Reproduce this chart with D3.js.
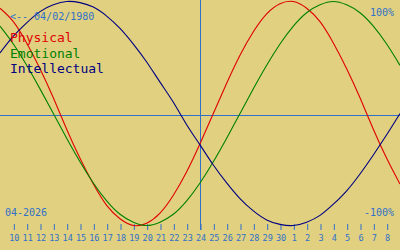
<!DOCTYPE html>
<html>
<head>
<meta charset="utf-8">
<script src="https://cdn.jsdelivr.net/npm/d3@7"></script>
<style>
  body { margin: 0; background: #e0d080; }
  svg { display: block; }
  text { font-family: "DejaVu Sans Mono", monospace; }
</style>
</head>
<body>
<svg id="chart" width="400" height="250"></svg>
<script>
// day offsets from the centre day (24)
var offsets = d3.range(-15, 16);
var dayLabels = [10, 11, 12, 13, 14, 15, 16, 17, 18, 19, 20, 21, 22, 23, 24,
                 25, 26, 27, 28, 29, 30, 1, 2, 3, 4, 5, 6, 7, 8];

// values, one per day, -15 .. +15
var physical = [0.94, 0.82, 0.63, 0.40, 0.14, -0.14, -0.40, -0.63, -0.82, -0.94, -1.00,
                -0.98, -0.89, -0.73, -0.52, -0.27, 0.00, 0.27, 0.52, 0.73, 0.89,
                0.98, 1.00, 0.94, 0.82, 0.63, 0.40, 0.14, -0.14, -0.40, -0.63];
var emotional = [0.78, 0.62, 0.43, 0.22, 0.00, -0.22, -0.43, -0.62, -0.78, -0.90, -0.97,
                 -1.00, -0.97, -0.90, -0.78, -0.62, -0.43, -0.22, 0.00, 0.22, 0.43,
                 0.62, 0.78, 0.90, 0.97, 1.00, 0.97, 0.90, 0.78, 0.62, 0.43];
var intellectual = [0.54, 0.69, 0.81, 0.91, 0.97, 1.00, 0.99, 0.95, 0.87, 0.76, 0.62,
                    0.46, 0.28, 0.10, -0.10, -0.28, -0.46, -0.62, -0.76, -0.87, -0.95,
                    -0.99, -1.00, -0.97, -0.91, -0.81, -0.69, -0.54, -0.37, -0.19, 0.00];

var series = [
  {name: "Physical", values: physical, color: "#e00000"},
  {name: "Emotional", values: emotional, color: "#008000"},
  {name: "Intellectual", values: intellectual, color: "#000080"}
];

var axisBlue = "#3070c8";
var svg = d3.select("#chart");

var x = d3.scaleLinear().domain([-15, 15]).range([0, 400]);
var y = d3.scaleLinear().domain([-1, 1]).range([225.5, 1.5]);

// centre lines
svg.append("line")
  .attr("x1", 0).attr("x2", 400)
  .attr("y1", 115.5).attr("y2", 115.5)
  .attr("stroke", axisBlue);
svg.append("line")
  .attr("x1", x(0) + 0.5).attr("x2", x(0) + 0.5)
  .attr("y1", 0).attr("y2", 230)
  .attr("stroke", axisBlue);

// day axis
var tickOffsets = d3.range(-14, 15);
var axis = d3.axisBottom(x)
  .tickValues(tickOffsets)
  .tickSize(6)
  .tickSizeOuter(0)
  .tickPadding(5)
  .tickFormat(function(d, i) { return dayLabels[i]; });

var gAxis = svg.append("g")
  .attr("transform", "translate(0.5,224)")
  .call(axis);
gAxis.select(".domain").remove();
gAxis.selectAll("line").attr("stroke", axisBlue);
gAxis.selectAll("text")
  .attr("fill", axisBlue)
  .style("font-size", "8.5px")
  .style("font-family", "DejaVu Sans Mono, monospace")
  .attr("dy", "0.72em");

// curves
var line = d3.line()
  .x(function(d, i) { return x(offsets[i]); })
  .y(function(d) { return y(d); })
  .curve(d3.curveNatural);

svg.selectAll(".curve")
  .data(series)
  .enter().append("path")
  .attr("class", "curve")
  .attr("d", function(d) { return line(d.values); })
  .attr("fill", "none")
  .attr("stroke", function(d) { return d.color; })
  .attr("stroke-width", 1.1);

// labels
svg.append("text").attr("x", 10).attr("y", 20)
  .attr("fill", axisBlue).style("font-size", "10px")
  .text("<-- 04/02/1980");
svg.append("text").attr("x", 394).attr("y", 16)
  .attr("text-anchor", "end")
  .attr("fill", axisBlue).style("font-size", "10px")
  .text("100%");
svg.append("text").attr("x", 394).attr("y", 216)
  .attr("text-anchor", "end")
  .attr("fill", axisBlue).style("font-size", "10px")
  .text("-100%");
svg.append("text").attr("x", 5).attr("y", 216)
  .attr("fill", axisBlue).style("font-size", "10px")
  .text("04-2026");

svg.selectAll(".legend")
  .data(series)
  .enter().append("text")
  .attr("class", "legend")
  .attr("x", 10)
  .attr("y", function(d, i) { return 42 + i * 15.5; })
  .attr("fill", function(d) { return d.color; })
  .style("font-size", "13px")
  .text(function(d) { return d.name; });
</script>
</body>
</html>
